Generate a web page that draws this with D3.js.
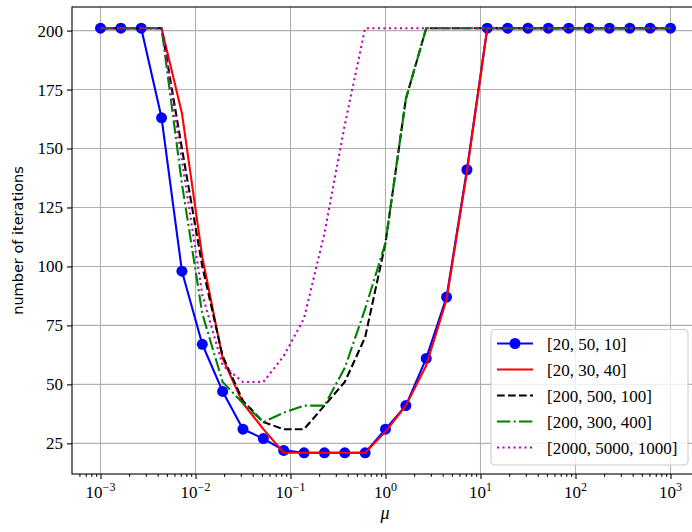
<!DOCTYPE html>
<html>
<head>
<meta charset="utf-8">
<script src="https://cdn.jsdelivr.net/npm/d3@7"></script>
<style>
  body { margin: 0; background: #fff; }
  svg { display: block; }
  text { font-family: 'Liberation Serif', 'DejaVu Serif', serif; }
</style>
</head>
<body>
<svg id="chart" width="692" height="532"></svg>
<script>
const mu = [
  0.001, 0.001638, 0.002683, 0.004394, 0.007197, 0.01179, 0.01931, 0.03162,
  0.05179, 0.08483, 0.1389, 0.2276, 0.3728, 0.6105, 1, 1.638, 2.683, 4.394,
  7.197, 11.79, 19.31, 31.62, 51.79, 84.83, 138.9, 227.6, 372.8, 610.5, 1000,
];

const it_20_50_10 = [
  201, 201, 201, 163, 98, 67, 47, 31, 27, 22, 21, 21, 21, 21, 31, 41, 61, 87,
  141, 201, 201, 201, 201, 201, 201, 201, 201, 201, 201,
];
const it_20_30_40 = [
  201, 201, 201, 201, 165, 104, 61, 42, 31, 21, 21, 21, 21, 21, 30, 41, 58, 86,
  140, 201, 201, 201, 201, 201, 201, 201, 201, 201, 201,
];
const it_200_500_100 = [
  201, 201, 201, 201, 150, 100, 62, 43, 34, 31, 31, 41, 51, 70, 110, 171, 201,
  201, 201, 201, 201, 201, 201, 201, 201, 201, 201, 201, 201,
];
const it_200_300_400 = [
  201, 201, 201, 201, 135, 80, 51, 42, 34, 38, 41, 41, 57, 82, 110, 171, 201,
  201, 201, 201, 201, 201, 201, 201, 201, 201, 201, 201, 201,
];
const it_2000_5000_1000 = [
  201, 201, 201, 201, 145, 88, 58, 51, 51, 62, 78, 114, 160, 201, 201, 201,
  201, 201, 201, 201, 201, 201, 201, 201, 201, 201, 201, 201, 201,
];

const labels = ['[20, 50, 10]', '[20, 30, 40]', '[200, 500, 100]', '[200, 300, 400]', '[2000, 5000, 1000]'];
const xTickExp = [-3, -2, -1, 0, 1, 2, 3];
const yTicks = [25, 50, 75, 100, 125, 150, 175, 200];

const series = [
  { name: labels[0], values: it_20_50_10, color: '#0000ff', dash: null, marker: true },
  { name: labels[1], values: it_20_30_40, color: '#ff0000', dash: null, marker: false },
  { name: labels[2], values: it_200_500_100, color: '#000000', dash: '7.7,3.3', marker: false },
  { name: labels[3], values: it_200_300_400, color: '#008000', dash: '13.3,3.3,2.1,3.3', marker: false },
  { name: labels[4], values: it_2000_5000_1000, color: '#bf00bf', dash: '2.1,3.4', marker: false },
];

const axLeft = 72, axTop = 7, axRight = 699, axBottom = 474;
const svg = d3.select('#chart');

const x = d3.scaleLog().domain([Math.pow(10, -3.3), Math.pow(10, 3.3)]).range([axLeft, axRight]);
const y = d3.scaleLinear().domain([12, 210]).range([axBottom, axTop]);

// grid
const grid = svg.append('g').attr('class', 'grid');
grid.selectAll('line.vx')
  .data(xTickExp)
  .enter()
  .append('line')
  .attr('x1', (d) => x(Math.pow(10, d)))
  .attr('x2', (d) => x(Math.pow(10, d)))
  .attr('y1', axTop)
  .attr('y2', axBottom)
  .attr('stroke', '#b0b0b0')
  .attr('stroke-width', 1.1);
grid.selectAll('line.hy')
  .data(yTicks)
  .enter()
  .append('line')
  .attr('x1', axLeft)
  .attr('x2', axRight)
  .attr('y1', (d) => y(d))
  .attr('y2', (d) => y(d))
  .attr('stroke', '#b0b0b0')
  .attr('stroke-width', 1.1);

// axes
const minorTicks = [];
for (let k = -4; k <= 3; k++) {
  for (let m = 2; m <= 9; m++) {
    const v = m * Math.pow(10, k);
    if (v > x.domain()[0] && v < x.domain()[1]) minorTicks.push(v);
  }
}

const xMajor = svg.append('g')
  .attr('transform', `translate(0,${axBottom})`)
  .call(d3.axisBottom(x).tickValues(xTickExp.map((e) => Math.pow(10, e))).tickSize(5).tickFormat(''));
const xMinor = svg.append('g')
  .attr('transform', `translate(0,${axBottom})`)
  .call(d3.axisBottom(x).tickValues(minorTicks).tickSize(2.8).tickFormat(''));
const yAxis = svg.append('g')
  .attr('transform', `translate(${axLeft},0)`)
  .call(d3.axisLeft(y).tickValues(yTicks).tickSize(5).tickPadding(4).tickFormat((d) => d));

[xMajor, xMinor, yAxis].forEach((g) => {
  g.select('.domain').remove();
  g.selectAll('.tick line').attr('stroke', '#000').attr('stroke-width', 1.1);
});
yAxis.selectAll('.tick text')
  .attr('font-size', 17)
  .attr('fill', '#000');

// x tick labels 10^k
const xLab = svg.append('g')
  .selectAll('text')
  .data(xTickExp)
  .enter()
  .append('text')
  .attr('x', (d) => x(Math.pow(10, d)))
  .attr('y', 498)
  .attr('text-anchor', 'middle')
  .attr('font-size', 17);
xLab.append('tspan').text('10');
xLab.append('tspan')
  .attr('dy', -7)
  .attr('font-size', 12)
  .text((d) => (d < 0 ? '\u2212' + Math.abs(d) : String(d)));

// spines
svg.append('rect')
  .attr('x', axLeft)
  .attr('y', axTop)
  .attr('width', axRight - axLeft)
  .attr('height', axBottom - axTop)
  .attr('fill', 'none')
  .attr('stroke', '#000')
  .attr('stroke-width', 1.1);

// lines
const line = d3.line()
  .x((d, i) => x(mu[i]))
  .y((d) => y(d));

const plot = svg.append('g');
series.forEach((s) => {
  plot.append('path')
    .datum(s.values)
    .attr('d', line)
    .attr('fill', 'none')
    .attr('stroke', s.color)
    .attr('stroke-width', 2.1)
    .attr('stroke-linejoin', 'round')
    .attr('stroke-dasharray', s.dash);
  if (s.marker) {
    plot.selectAll('circle.m')
      .data(s.values)
      .enter()
      .append('circle')
      .attr('cx', (d, i) => x(mu[i]))
      .attr('cy', (d) => y(d))
      .attr('r', 5.5)
      .attr('fill', s.color);
  }
});

// axis labels
svg.append('text')
  .attr('x', 385)
  .attr('y', 519)
  .attr('text-anchor', 'middle')
  .attr('font-size', 18)
  .attr('font-style', 'italic')
  .text('\u03bc');

svg.append('text')
  .attr('transform', `translate(23,${(axTop + axBottom) / 2}) rotate(-90)`)
  .attr('text-anchor', 'middle')
  .attr('font-size', 14.5)
  .style('font-family', "'DejaVu Sans', sans-serif")
  .text('number of iterations');

// legend
const lg = svg.append('g');
lg.append('rect')
  .attr('x', 491)
  .attr('y', 329.5)
  .attr('width', 197)
  .attr('height', 135.5)
  .attr('rx', 4)
  .attr('fill', '#fff')
  .attr('fill-opacity', 0.8)
  .attr('stroke', '#cccccc')
  .attr('stroke-width', 1.1);

const row = lg.selectAll('g.row')
  .data(series)
  .enter()
  .append('g')
  .attr('transform', (d, i) => `translate(0,${343.5 + i * 26})`);
row.append('line')
  .attr('x1', 497)
  .attr('x2', 533)
  .attr('y1', 0)
  .attr('y2', 0)
  .attr('stroke', (d) => d.color)
  .attr('stroke-width', 2.1)
  .attr('stroke-dasharray', (d) => d.dash);
row.filter((d) => d.marker)
  .append('circle')
  .attr('cx', 515)
  .attr('cy', 0)
  .attr('r', 5.5)
  .attr('fill', (d) => d.color);
row.append('text')
  .attr('x', 547)
  .attr('y', 6)
  .attr('font-size', 17)
  .text((d) => d.name);
</script>
</body>
</html>
